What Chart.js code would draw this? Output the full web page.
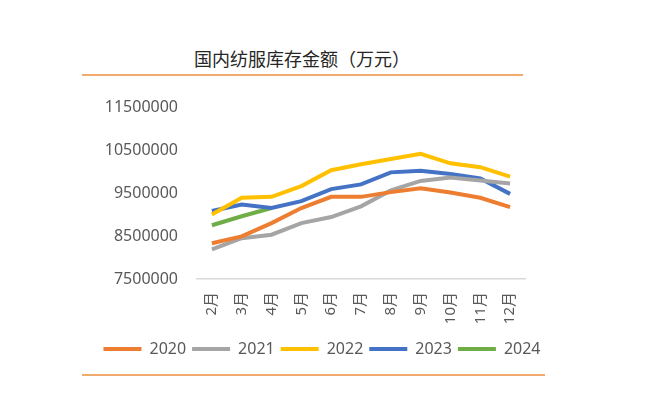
<!DOCTYPE html>
<html><head><meta charset="utf-8">
<script src="https://cdn.jsdelivr.net/npm/chart.js@4/dist/chart.umd.min.js"></script>
<style>
html,body{margin:0;padding:0;background:#fff;width:660px;height:407px;overflow:hidden}
#wrap{position:relative;width:660px;height:407px}
#title{position:absolute;left:0;width:604px;top:46px;text-align:center;font-size:18px;font-family:"Noto Sans CJK SC",sans-serif;color:#262626;line-height:24px}
.rule{position:absolute;height:2px;background:#F0AB6E}
#cv{position:absolute;left:0;top:0}
</style></head>
<body>
<div id="wrap">
<div id="title">国内纺服库存金额（万元）</div>
<div class="rule" style="left:82px;width:441px;top:74px"></div>
<div class="rule" style="left:82px;width:463px;top:374px"></div>
<canvas id="cv" width="660" height="407"></canvas>
</div>
<script>
const months = ["2月","3月","4月","5月","6月","7月","8月","9月","10月","11月","12月"];
const seriesNames = ["2020","2021","2022","2023","2024"];
const v2020 = [8330000,8490000,8800000,9150000,9410000,9410000,9520000,9610000,9510000,9390000,9170000];
const v2021 = [8190000,8450000,8530000,8800000,8940000,9190000,9560000,9780000,9860000,9790000,9720000];
const v2022 = [9000000,9390000,9410000,9660000,10030000,10170000,10290000,10410000,10190000,10100000,9880000];
const v2023 = [9080000,9230000,9150000,9310000,9590000,9700000,9980000,10020000,9940000,9840000,9480000];
const v2024 = [8750000,8960000,9150000,null,null,null,null,null,null,null,null];
const yTicks = [7500000,8500000,9500000,10500000,11500000];
const colors = ["#ED7D31","#A5A5A5","#FFC000","#4472C4","#70AD47"];
const values = [v2020,v2021,v2022,v2023,v2024];

const FONT = '"Noto Sans","Noto Sans CJK SC",sans-serif';
const datasets = seriesNames.map((n,i)=>({
  label:n, data:values[i], borderColor:colors[i], backgroundColor:colors[i],
  borderWidth:4, pointRadius:0, tension:0, fill:false, spanGaps:false
}));

new Chart(document.getElementById('cv'),{
  type:'line',
  data:{labels:months, datasets},
  options:{
    responsive:false, animation:false,
    layout:{padding:{left:0,right:16,top:107,bottom:40}},
    plugins:{
      title:{display:false},
      tooltip:{enabled:false},
      legend:{
        position:'bottom',
        labels:{
          font:{family:FONT,size:16}, color:'#595959',
          boxWidth:38, boxHeight:4, padding:6,
          generateLabels(chart){
            return chart.data.datasets.map((d,i)=>({text:d.label, fillStyle:d.borderColor, strokeStyle:d.borderColor, lineWidth:0, datasetIndex:i, fontColor:'#595959'}));
          }
        }
      }
    },
    scales:{
      x:{
        offset:true,
        grid:{display:false, drawTicks:false},
        border:{display:true,color:'#D9D9D9',width:1.5},
        ticks:{font:{family:FONT,size:15}, color:'#595959', minRotation:90, maxRotation:90, padding:13},
        afterFit(s){ s.height = 56; }
      },
      y:{
        min:7500000, max:11500000,
        grid:{display:false, drawTicks:false}, border:{display:false},
        afterBuildTicks(s){ s.ticks = yTicks.map(v=>({value:v})); },
        ticks:{font:{family:FONT,size:16}, color:'#595959', padding:19,
          callback:(v)=>String(v)},
        afterFit(s){ s.width = 197; }
      },
      yR:{
        position:'right', min:0, max:1,
        grid:{display:false}, border:{display:false},
        ticks:{display:false},
        afterFit(s){ s.width = 119; }
      }
    }
  }
});
</script>
</body></html>
